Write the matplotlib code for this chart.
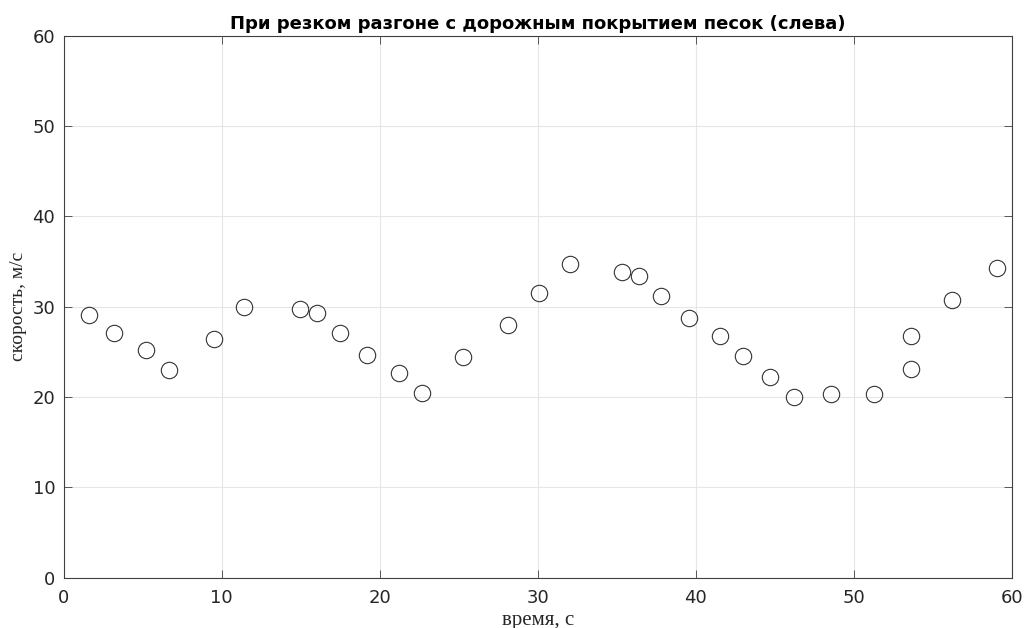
import matplotlib.pyplot as plt

# data
t = [1.61, 3.22, 5.23, 6.66, 9.53, 11.44, 14.98, 16.04, 17.51, 19.22,
     21.23, 22.67, 25.24, 28.13, 30.05, 32.06, 35.33, 36.38, 37.82, 39.54,
     41.50, 43.00, 44.72, 46.19, 48.56, 51.25, 53.64, 53.64, 56.23, 59.08]
v = [29.1, 27.1, 25.2, 23.0, 26.4, 30.0, 29.7, 29.3, 27.1, 24.6,
     22.6, 20.4, 24.4, 28.0, 31.5, 34.7, 33.8, 33.4, 31.2, 28.7,
     26.7, 24.5, 22.2, 20.0, 20.3, 20.3, 23.1, 26.7, 30.7, 34.3]

title = "При резком разгоне с дорожным покрытием песок (слева)"
xlabel = "время, с"
ylabel = "скорость, м/с"
xticks = [0, 10, 20, 30, 40, 50, 60]
yticks = [0, 10, 20, 30, 40, 50, 60]

plt.rcParams['font.family'] = ['DejaVu Sans']

fig = plt.figure(figsize=(10.25, 6.28), dpi=100)
ax = fig.add_axes([0.062, 0.0804, 0.9253, 0.8628])

ax.plot(t, v, linestyle='none', marker='o', markersize=11.8,
        markerfacecolor='none', markeredgecolor='#333333', markeredgewidth=0.8)

ax.set_xlim(0, 60)
ax.set_ylim(0, 60)
ax.set_xticks(xticks)
ax.set_yticks(yticks)
ax.grid(True, color='#e6e6e6', linewidth=0.8)
ax.set_axisbelow(True)

for s in ax.spines.values():
    s.set_color('#404040')
    s.set_linewidth(0.8)

ax.tick_params(axis='both', direction='in', length=6, width=0.6, color='#404040',
               labelsize=13, labelcolor='#262626', top=True, right=True)
ax.tick_params(axis='x', pad=8)
ax.tick_params(axis='y', pad=6)

ax.set_title(title, fontsize=13, fontweight='bold', pad=5)
ax.set_xlabel(xlabel, family='Liberation Serif', fontsize=15, color='#262626', labelpad=3)
ax.set_ylabel(ylabel, family='Liberation Serif', fontsize=14, color='#262626', labelpad=4)

fig.savefig("out.png", dpi=100)
